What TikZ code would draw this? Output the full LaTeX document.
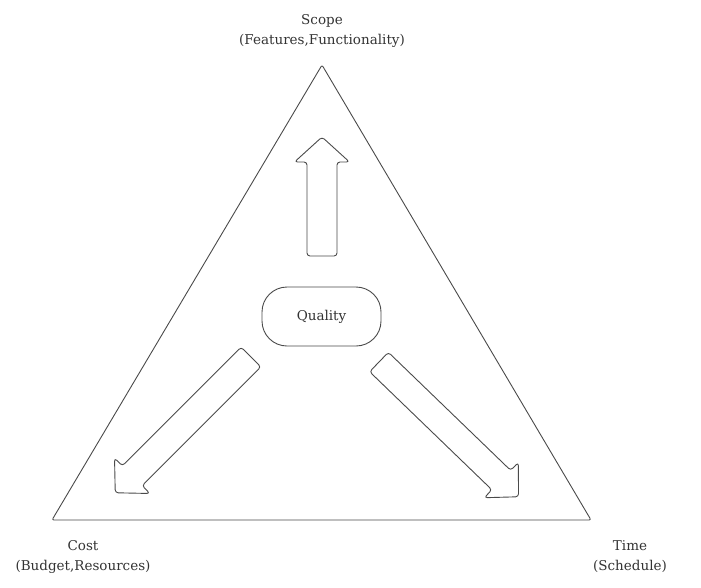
\documentclass[tikz,border=0pt]{standalone}
\usepackage{fontspec}
\setmainfont{DejaVu Serif}
\definecolor{linec}{HTML}{4A4A4A}
\definecolor{textc}{HTML}{333333}
\newcommand{\fatarrowpath}[4]{% L, w, h, hl
  (0,-#2) -- (#1-#4,-#2) -- (#1-#4,-#3) -- (#1,0) -- (#1-#4,#3) -- (#1-#4,#2) -- (0,#2) -- cycle}
\tikzset{
  shapeline/.style={draw=linec, line width=0.9pt, line join=round},
  lbl/.style={text=textc, align=center, font=\fontsize{13.5}{20}\selectfont, inner sep=0pt},
  pill/.style={shapeline, rounded corners=25pt, minimum width=119pt, minimum height=59pt, text=textc, font=\fontsize{13.5}{18}\selectfont}
}
\begin{document}
\begin{tikzpicture}[x=1pt,y=-1pt]
\useasboundingbox (0,0) rectangle (701,587);
% triangle
\coordinate (apex) at (322,65);
\coordinate (bl) at (52,520);
\coordinate (br) at (591,520);
\draw[shapeline, rounded corners=2pt] (apex) -- (br) -- (bl) -- cycle;
% labels
\node[lbl] (scope) at (322,30.5) {Scope\\(Features,Functionality)};
\node[lbl] (cost) at (83,556.5) {Cost\\(Budget,Resources)};
\node[lbl] (time) at (630,556.5) {Time\\(Schedule)};
% quality
\node[pill] (quality) at (321.5,316.5) {Quality};
% arrows
\begin{scope}[shift={(322,256)}, rotate=90]
  \draw[shapeline, rounded corners=3pt] \fatarrowpath{119}{15}{27.5}{25};
\end{scope}
\begin{scope}[shift={(251,357)}, rotate=225]
  \draw[shapeline, rounded corners=3pt] \fatarrowpath{192}{14}{25}{24};
\end{scope}
\begin{scope}[shift={(379,362)}, rotate=-44]
  \draw[shapeline, rounded corners=3pt] \fatarrowpath{194}{13.5}{24.5}{24};
\end{scope}
\end{tikzpicture}
\end{document}
